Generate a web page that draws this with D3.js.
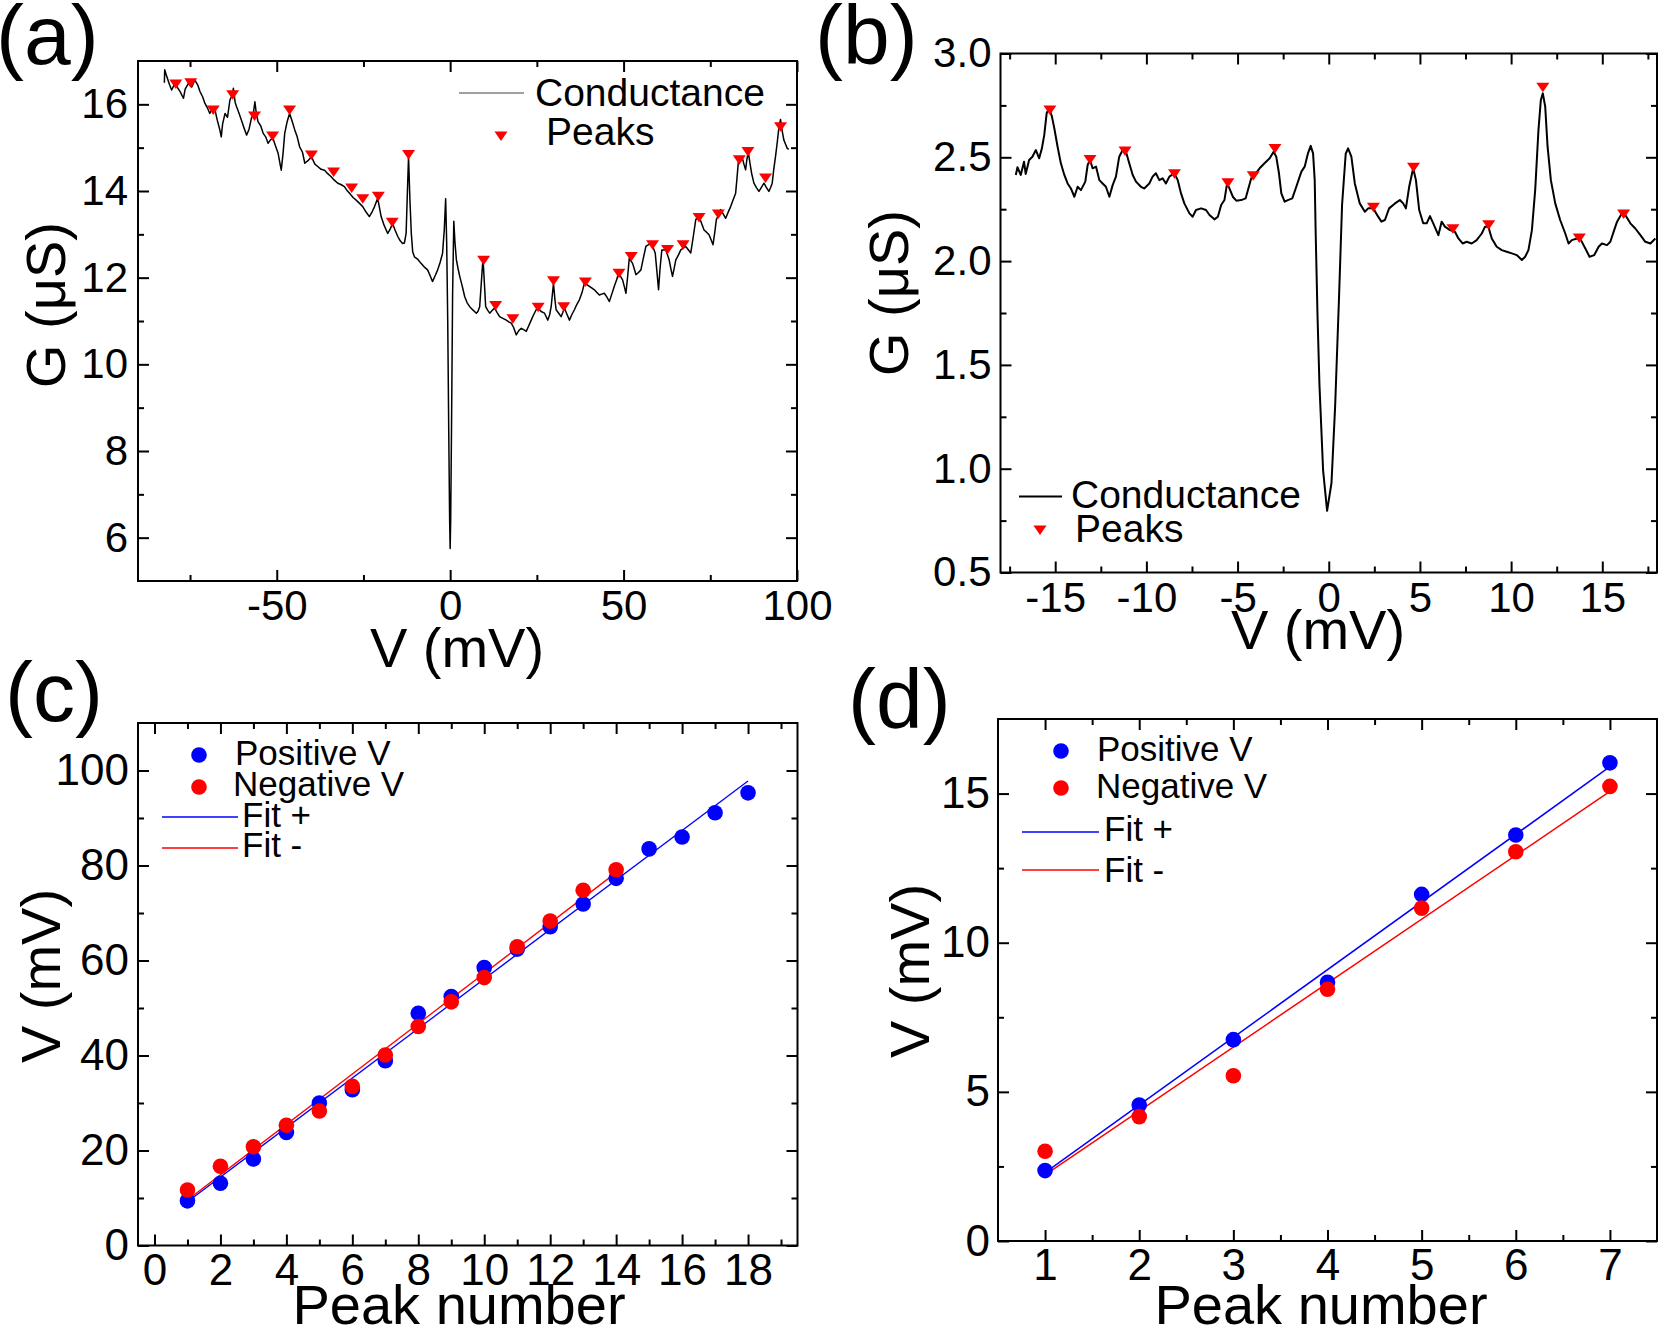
<!DOCTYPE html>
<html>
<head>
<meta charset="utf-8">
<script src="https://cdn.jsdelivr.net/npm/d3@7"></script>
<style>
body { margin: 0; background: #fff; }
svg text { font-family: "Liberation Sans", Arial, Helvetica, sans-serif; fill: #000; }
</style>
</head>
<body>
<div id="main"></div>
<script>
// ---- panel (a): conductance, wide bias range  [V (mV), G (uS)]
const condA = [
  [-82.4,16.50],[-82.3,16.80],[-81.7,16.64],[-80.9,16.45],[-80.3,16.33],[-79.5,16.46],[-78.8,16.41],[-77.9,16.30],
  [-76.9,16.14],[-76.4,16.35],[-75.5,16.48],[-74.5,16.40],[-73.6,16.56],[-72.8,16.45],[-72.1,16.29],[-71.4,16.18],
  [-70.7,16.02],[-70.0,15.92],[-69.3,15.79],[-68.5,15.90],[-67.8,15.87],[-67.1,15.62],[-66.4,15.41],[-66.0,15.25],
  [-65.6,15.55],[-64.9,15.79],[-64.2,15.70],[-63.5,16.10],[-62.9,16.20],[-62.5,16.37],[-62.0,16.05],[-61.6,15.95],
  [-60.9,15.80],[-60.2,15.64],[-59.4,15.45],[-58.7,15.29],[-58.0,15.42],[-57.3,15.68],[-56.8,15.75],[-56.3,16.06],
  [-55.9,15.80],[-55.4,15.60],[-54.6,15.50],[-53.9,15.33],[-53.2,15.25],[-52.5,15.10],[-51.8,15.18],[-51.1,15.22],
  [-50.4,15.05],[-49.6,14.87],[-49.1,14.65],[-48.7,14.48],[-48.2,14.85],[-47.7,15.33],[-47.0,15.60],[-46.3,15.79],
  [-45.6,15.62],[-44.8,15.41],[-44.1,15.25],[-43.4,15.02],[-42.6,14.90],[-41.9,14.64],[-41.0,14.70],[-40.0,14.79],
  [-39.0,14.62],[-38.1,14.56],[-37.2,14.50],[-36.2,14.48],[-35.3,14.40],[-34.3,14.33],[-33.4,14.25],[-32.4,14.18],
  [-31.5,14.15],[-30.5,14.10],[-29.8,14.02],[-29.0,13.95],[-28.0,13.85],[-27.1,13.79],[-26.2,13.72],[-25.2,13.64],
  [-24.3,13.52],[-23.3,13.41],[-22.5,13.52],[-21.8,13.64],[-20.9,13.83],[-20.4,13.62],[-19.9,13.41],[-19.0,13.20],
  [-18.0,13.02],[-17.3,13.12],[-16.6,13.25],[-15.9,13.10],[-15.1,12.95],[-14.4,12.85],[-13.7,12.79],[-13.2,12.80],
  [-12.7,13.02],[-12.4,13.80],[-12.0,14.79],[-11.6,13.80],[-11.2,13.02],[-10.8,12.60],[-10.3,12.48],[-9.3,12.42],
  [-8.4,12.33],[-7.5,12.25],[-6.5,12.18],[-5.8,12.05],[-5.1,11.91],[-4.3,12.05],[-3.6,12.18],[-2.9,12.35],
  [-2.2,12.56],[-1.7,13.10],[-1.3,13.82],[-1.0,12.80],[-0.7,11.0],[-0.4,8.4],[-0.15,6.4],[0.0,5.75],
  [0.15,6.4],[0.4,8.6],[0.7,11.6],[1.05,13.30],[1.4,12.80],[1.8,12.41],[2.3,12.20],[2.76,12.03],
  [3.5,11.80],[4.2,11.56],[4.9,11.42],[5.64,11.33],[6.6,11.25],[7.55,11.18],[8.0,11.22],[8.51,11.33],
  [9.0,11.90],[9.47,12.45],[9.85,11.90],[10.24,11.33],[10.8,11.25],[11.39,11.18],[12.1,11.24],[12.82,11.30],
  [13.5,11.20],[14.26,11.10],[15.2,11.06],[16.18,11.02],[16.9,10.98],[17.62,10.95],[18.3,10.85],[19.05,10.68],
  [19.8,10.78],[20.49,10.83],[21.2,10.80],[21.93,10.76],[22.6,10.88],[23.37,11.02],[24.1,11.15],[24.8,11.26],
  [25.5,11.28],[26.24,11.22],[27.2,11.18],[28.16,11.02],[28.7,11.15],[29.12,11.33],[29.79,11.87],[30.2,11.50],
  [30.55,11.26],[31.3,11.18],[31.99,11.10],[32.5,11.20],[32.95,11.30],[33.7,11.15],[34.39,11.02],[35.1,11.15],
  [35.82,11.26],[36.5,11.38],[37.26,11.49],[38.0,11.65],[38.7,11.87],[39.4,11.84],[40.14,11.80],[40.9,11.76],
  [41.58,11.72],[42.3,11.66],[43.01,11.60],[43.7,11.62],[44.45,11.64],[45.2,11.55],[45.89,11.45],[46.6,11.62],
  [47.33,11.80],[48.0,11.95],[48.57,12.10],[49.2,12.02],[49.72,11.95],[50.2,11.80],[50.68,11.64],[51.2,12.05],
  [51.64,12.45],[52.1,12.39],[52.6,12.33],[53.1,12.20],[53.56,12.07],[54.3,12.12],[55.0,12.18],[55.7,12.45],
  [56.43,12.72],[57.2,12.76],[57.87,12.80],[58.5,12.70],[59.12,12.57],[59.6,12.15],[60.08,11.72],[60.5,12.20],
  [61.03,12.64],[61.6,12.64],[62.18,12.64],[62.7,12.52],[63.14,12.41],[63.6,12.22],[64.1,12.03],[64.6,12.22],
  [65.06,12.41],[65.8,12.52],[66.5,12.64],[67.2,12.68],[67.93,12.72],[68.6,12.65],[69.37,12.57],[70.1,12.95],
  [70.81,13.34],[71.77,13.41],[72.5,13.25],[73.2,13.10],[73.9,13.05],[74.64,12.99],[75.2,12.88],[75.79,12.76],
  [76.3,13.05],[76.75,13.34],[77.4,13.45],[78.0,13.57],[78.7,13.47],[79.43,13.37],[80.1,13.50],[80.87,13.64],
  [81.6,13.80],[82.31,13.95],[82.7,14.30],[83.07,14.65],[83.6,14.70],[84.23,14.76],[84.7,14.62],[85.18,14.49],
  [85.5,14.70],[85.95,14.91],[86.4,14.66],[86.91,14.41],[87.58,14.18],[88.3,14.08],[89.02,13.99],[89.7,14.08],
  [90.46,14.18],[91.2,14.08],[91.89,13.99],[92.4,14.08],[92.85,14.18],[93.3,14.50],[93.81,14.80],[94.3,15.12],
  [94.77,15.45],[95.25,15.65],[95.7,15.40],[96.2,15.18],[96.7,15.08],[97.16,14.99],[97.6,14.96]
];
const peaksAV = [-79.1,-74.8,-68.3,-62.7,-56.4,-51.2,-46.3,-40.0,-33.6,-28.4,-25.2,-20.7,-16.7,-12.0,
  9.66,13.11,18.09,25.38,29.79,32.76,38.99,48.67,52.21,58.35,62.66,67.17,71.76,77.32,83.36,85.85,90.93,95.25];
const peaksAG = [16.47,16.50,15.87,16.22,15.73,15.27,15.87,14.83,14.44,14.07,13.82,13.88,13.28,14.84,
  12.40,11.36,11.05,11.32,11.93,11.33,11.90,12.10,12.49,12.76,12.65,12.76,13.39,13.47,14.72,14.91,14.30,15.48];

// ---- panel (b): conductance, narrow bias range
const condB = [
  [-17.16,2.415],[-17.07,2.452],[-16.89,2.415],[-16.71,2.479],[-16.62,2.420],[-16.43,2.487],[-16.25,2.503],
  [-16.06,2.535],[-15.88,2.495],[-15.73,2.543],[-15.60,2.608],[-15.47,2.712],[-15.33,2.736],[-15.18,2.696],
  [-15.05,2.640],[-14.87,2.551],[-14.69,2.471],[-14.50,2.415],[-14.32,2.374],[-14.14,2.350],[-13.95,2.310],
  [-13.77,2.358],[-13.59,2.342],[-13.35,2.383],[-13.22,2.463],[-13.09,2.487],[-12.95,2.447],[-12.76,2.455],
  [-12.58,2.390],[-12.40,2.374],[-12.22,2.358],[-12.03,2.310],[-11.85,2.366],[-11.67,2.407],[-11.49,2.503],
  [-11.30,2.535],[-11.12,2.527],[-10.94,2.471],[-10.75,2.415],[-10.57,2.383],[-10.30,2.358],[-10.12,2.350],
  [-9.84,2.374],[-9.66,2.407],[-9.48,2.423],[-9.29,2.390],[-9.11,2.399],[-8.93,2.374],[-8.74,2.407],
  [-8.47,2.423],[-8.28,2.390],[-8.10,2.326],[-7.92,2.278],[-7.64,2.230],[-7.46,2.214],[-7.28,2.246],
  [-7.00,2.254],[-6.73,2.246],[-6.54,2.222],[-6.27,2.201],[-6.08,2.214],[-5.90,2.270],[-5.72,2.294],
  [-5.59,2.366],[-5.48,2.358],[-5.26,2.310],[-5.07,2.291],[-4.80,2.294],[-4.56,2.302],[-4.38,2.358],
  [-4.25,2.399],[-4.07,2.415],[-3.79,2.447],[-3.52,2.471],[-3.24,2.495],[-3.02,2.527],[-2.88,2.503],
  [-2.73,2.423],[-2.60,2.326],[-2.42,2.286],[-2.24,2.294],[-2.00,2.302],[-1.78,2.358],[-1.50,2.431],
  [-1.32,2.455],[-1.14,2.519],[-0.99,2.555],[-0.86,2.519],[-0.77,2.390],[-0.72,2.150],[-0.62,1.750],
  [-0.51,1.404],[-0.31,0.992],[-0.09,0.797],[0.15,0.931],[0.35,1.300],[0.56,1.817],[0.73,2.270],
  [0.93,2.517],[1.06,2.543],[1.24,2.503],[1.43,2.374],[1.70,2.278],[1.98,2.238],[2.16,2.254],
  [2.44,2.254],[2.71,2.214],[2.89,2.190],[3.08,2.198],[3.31,2.254],[3.63,2.278],[3.90,2.294],
  [4.08,2.278],[4.23,2.254],[4.41,2.358],[4.63,2.447],[4.78,2.390],[4.96,2.246],[5.18,2.182],
  [5.37,2.182],[5.55,2.217],[5.73,2.182],[6.01,2.125],[6.19,2.190],[6.37,2.166],[6.65,2.149],
  [6.92,2.141],[7.11,2.109],[7.34,2.085],[7.56,2.093],[7.84,2.085],[8.11,2.101],[8.39,2.133],
  [8.57,2.166],[8.75,2.166],[8.94,2.109],[9.21,2.069],[9.49,2.053],[9.76,2.045],[10.04,2.037],
  [10.31,2.029],[10.59,2.005],[10.77,2.021],[10.95,2.053],[11.14,2.149],[11.32,2.342],[11.50,2.632],
  [11.63,2.776],[11.74,2.808],[11.87,2.744],[12.00,2.551],[12.18,2.390],[12.42,2.278],[12.69,2.198],
  [12.97,2.133],[13.15,2.085],[13.33,2.101],[13.61,2.109],[13.83,2.101],[14.07,2.061],[14.30,2.021],
  [14.56,2.029],[14.80,2.069],[14.98,2.085],[15.26,2.077],[15.44,2.093],[15.62,2.141],[15.81,2.190],
  [16.08,2.230],[16.26,2.222],[16.54,2.182],[16.81,2.157],[17.09,2.125],[17.36,2.093],[17.64,2.085],
  [17.91,2.109]
];
const peaksBV = [-15.29,-13.09,-11.17,-8.46,-5.53,-4.14,-2.95,2.45,4.65,6.81,8.77,11.74,13.74,16.17];
const peaksBG = [2.728,2.490,2.530,2.421,2.378,2.411,2.542,2.259,2.452,2.156,2.175,2.837,2.111,2.227];

// ---- panel (c): peak positions, wide range
const peakNumC = [1,2,3,4,5,6,7,8,9,10,11,12,13,14,15,16,17,18];
const posC = [9.4,13.1,18.2,23.8,30.0,32.8,38.9,48.9,52.4,58.5,62.4,67.1,71.9,77.3,83.5,86.0,91.1,95.3];
const negC = [11.7,16.7,20.8,25.3,28.3,33.5,40.1,46.1,51.3,56.4,62.9,68.3,74.8,79.1];
const fitPosC = [[1,9.2],[18,97.8]];
const fitNegC = [[1,9.6],[14,78.5]];

// ---- panel (d): peak positions, narrow range
const peakNumD = [1,2,3,4,5,6,7];
const posD = [2.36,4.56,6.75,8.67,11.62,13.61,16.03];
const negD = [3.01,4.17,5.54,8.44,11.16,13.05,15.24];
const fitPosD = [[1,2.29],[7,15.9]];
const fitNegD = [[1,2.22],[7,15.07]];

// tick values
const ticksA = { xMajor: [-50,0,50,100], xMinor: [-75,-25,25,75], yMajor: [6,8,10,12,14,16], yMinor: [7,9,11,13,15] };
const ticksB = { xMajor: [-15,-10,-5,0,5,10,15], xMinor: [-17.5,-12.5,-7.5,-2.5,2.5,7.5,12.5,17.5],
                 yMajor: [0.5,1.0,1.5,2.0,2.5,3.0], yMinor: [0.75,1.25,1.75,2.25,2.75] };
const ticksC = { xMajor: [0,2,4,6,8,10,12,14,16,18], xMinor: [1,3,5,7,9,11,13,15,17,19],
                 yMajor: [0,20,40,60,80,100], yMinor: [10,30,50,70,90] };
const ticksD = { xMajor: [1,2,3,4,5,6,7], xMinor: [1.5,2.5,3.5,4.5,5.5,6.5],
                 yMajor: [0,5,10,15], yMinor: [2.5,7.5,12.5] };

const width = 1661, height = 1327;
const FONT = '"Liberation Sans", Arial, Helvetica, sans-serif';
const BLUE = '#0000ff', RED = '#ff0000';

let svg = d3.select('#main')
  .append('svg')
    .attr('width', width)
    .attr('height', height)
    .style('background', '#fff');

function addAxis(axis, transform, fontSize) {
  const a = svg.append('g').attr('transform', transform).call(axis);
  a.attr('font-family', FONT).attr('font-size', fontSize);
  a.select('.domain').remove();
  a.selectAll('line').attr('stroke', '#000').attr('stroke-width', 2);
  a.selectAll('text').attr('fill', '#000');
  return a;
}

// frame with inward ticks on all four sides
function panel(box, xDomain, yDomain, ticks, opt) {
  const x = d3.scaleLinear().domain(xDomain).range([box.x0, box.x1]);
  const y = d3.scaleLinear().domain(yDomain).range([box.y1, box.y0]);
  const M = 11, m = 6;

  addAxis(d3.axisBottom(x).tickValues(ticks.xMajor).tickSizeInner(-M).tickSizeOuter(0)
    .tickPadding(opt.xPad).tickFormat(d => String(d)), `translate(0,${box.y1})`, opt.tick);
  addAxis(d3.axisBottom(x).tickValues(ticks.xMinor).tickSizeInner(-m).tickSizeOuter(0).tickFormat(''),
    `translate(0,${box.y1})`, opt.tick);
  addAxis(d3.axisTop(x).tickValues(ticks.xMajor).tickSizeInner(-M).tickSizeOuter(0).tickFormat(''),
    `translate(0,${box.y0})`, opt.tick);
  addAxis(d3.axisTop(x).tickValues(ticks.xMinor).tickSizeInner(-m).tickSizeOuter(0).tickFormat(''),
    `translate(0,${box.y0})`, opt.tick);
  addAxis(d3.axisLeft(y).tickValues(ticks.yMajor).tickSizeInner(-M).tickSizeOuter(0)
    .tickPadding(opt.yPad).tickFormat(opt.yFmt), `translate(${box.x0},0)`, opt.tick);
  addAxis(d3.axisLeft(y).tickValues(ticks.yMinor).tickSizeInner(-m).tickSizeOuter(0).tickFormat(''),
    `translate(${box.x0},0)`, opt.tick);
  addAxis(d3.axisRight(y).tickValues(ticks.yMajor).tickSizeInner(-M).tickSizeOuter(0).tickFormat(''),
    `translate(${box.x1},0)`, opt.tick);
  addAxis(d3.axisRight(y).tickValues(ticks.yMinor).tickSizeInner(-m).tickSizeOuter(0).tickFormat(''),
    `translate(${box.x1},0)`, opt.tick);

  svg.append('rect')
    .attr('x', box.x0).attr('y', box.y0)
    .attr('width', box.x1 - box.x0).attr('height', box.y1 - box.y0)
    .attr('fill', 'none').attr('stroke', '#000').attr('stroke-width', 2);

  return { x, y };
}

function text(str, x, y, size, anchor, rotate) {
  return svg.append('text')
    .attr('transform', `translate(${x},${y})` + (rotate ? ` rotate(${rotate})` : ''))
    .attr('text-anchor', anchor || 'start')
    .attr('font-size', size)
    .text(str);
}

const tri = 'M-6.5,-4.5L6.5,-4.5L0,5Z';

// ---------------- (a)
const A = panel({ x0: 138, x1: 797, y0: 61, y1: 581 }, [-90, 100], [5, 17], ticksA,
  { tick: 42, xPad: 9, yPad: 10, yFmt: d => String(d) });

svg.append('path')
  .datum(condA)
  .attr('fill', 'none').attr('stroke', '#000').attr('stroke-width', 1.5).attr('stroke-linejoin', 'round')
  .attr('d', d3.line().x(d => A.x(d[0])).y(d => A.y(d[1])));

svg.selectAll('.peakA')
  .data(peaksAV)
  .enter()
  .append('path')
    .attr('class', 'peakA')
    .attr('d', tri)
    .attr('transform', (d, i) => `translate(${A.x(d)},${A.y(peaksAG[i])})`)
    .attr('fill', RED);

// legend (a)
svg.append('line').attr('x1', 459).attr('x2', 524).attr('y1', 93).attr('y2', 93)
  .attr('stroke', '#808080').attr('stroke-width', 1.5);
text('Conductance', 535, 106, 39);
svg.append('path').attr('d', tri).attr('transform', 'translate(501,136)').attr('fill', RED);
text('Peaks', 546, 145, 39);

text('V (mV)', 457, 667, 56, 'middle');
text('G (\u03bcS)', 65, 305, 56, 'middle', -90);
text('(a)', -4, 64, 84);

// ---------------- (b)
const B = panel({ x0: 1000.5, x1: 1657, y0: 53.5, y1: 572.5 }, [-18, 18], [0.5, 3.0], ticksB,
  { tick: 42, xPad: 10, yPad: 9, yFmt: d3.format('.1f') });

svg.append('path')
  .datum(condB)
  .attr('fill', 'none').attr('stroke', '#000').attr('stroke-width', 2).attr('stroke-linejoin', 'round')
  .attr('d', d3.line().x(d => B.x(d[0])).y(d => B.y(d[1])));

svg.selectAll('.peakB')
  .data(peaksBV)
  .enter()
  .append('path')
    .attr('class', 'peakB')
    .attr('d', tri)
    .attr('transform', (d, i) => `translate(${B.x(d)},${B.y(peaksBG[i])})`)
    .attr('fill', RED);

// legend (b)
svg.append('line').attr('x1', 1019).attr('x2', 1062).attr('y1', 496.5).attr('y2', 496.5)
  .attr('stroke', '#000').attr('stroke-width', 2);
text('Conductance', 1071, 508, 39);
svg.append('path').attr('d', tri).attr('transform', 'translate(1040,530)').attr('fill', RED);
text('Peaks', 1075, 542, 39);

text('V (mV)', 1318, 649, 56, 'middle');
text('G (\u03bcS)', 908, 293, 56, 'middle', -90);
text('(b)', 815, 64, 84);

// ---------------- (c)
const C = panel({ x0: 138, x1: 797.5, y0: 723, y1: 1245.5 }, [-0.5, 19.5], [0, 110], ticksC,
  { tick: 44, xPad: 8, yPad: 9, yFmt: d => String(d) });

const fitLine = s => d3.line().x(d => s.x(d[0])).y(d => s.y(d[1]));

svg.append('path').datum(fitPosC).attr('fill', 'none').attr('stroke', BLUE).attr('stroke-width', 1.3).attr('d', fitLine(C));
svg.append('path').datum(fitNegC).attr('fill', 'none').attr('stroke', RED).attr('stroke-width', 1.3).attr('d', fitLine(C));

svg.selectAll('.posC')
  .data(posC)
  .enter()
  .append('circle')
    .attr('class', 'posC')
    .attr('cx', (d, i) => C.x(peakNumC[i]))
    .attr('cy', d => C.y(d))
    .attr('r', 7.8)
    .style('fill', BLUE);

svg.selectAll('.negC')
  .data(negC)
  .enter()
  .append('circle')
    .attr('class', 'negC')
    .attr('cx', (d, i) => C.x(peakNumC[i]))
    .attr('cy', d => C.y(d))
    .attr('r', 7.8)
    .style('fill', RED);

// legend (c)
svg.append('circle').attr('cx', 199).attr('cy', 755).attr('r', 7.8).style('fill', BLUE);
text('Positive V', 235, 765, 35);
svg.append('circle').attr('cx', 199).attr('cy', 787).attr('r', 7.8).style('fill', RED);
text('Negative V', 233, 796, 35);
svg.append('line').attr('x1', 162).attr('x2', 238).attr('y1', 817).attr('y2', 817).attr('stroke', BLUE).attr('stroke-width', 1.3);
text('Fit +', 242, 827, 35);
svg.append('line').attr('x1', 162).attr('x2', 238).attr('y1', 848).attr('y2', 848).attr('stroke', RED).attr('stroke-width', 1.3);
text('Fit -', 242, 857, 35);

text('Peak number', 459, 1324, 56, 'middle');
text('V (mV)', 60, 976, 56, 'middle', -90);
text('(c)', 5, 721, 84);

// ---------------- (d)
const D = panel({ x0: 998, x1: 1657, y0: 719, y1: 1241 }, [0.5, 7.5], [0, 17.5], ticksD,
  { tick: 44, xPad: 8, yPad: 8, yFmt: d => String(d) });

svg.append('path').datum(fitPosD).attr('fill', 'none').attr('stroke', BLUE).attr('stroke-width', 1.5).attr('d', fitLine(D));
svg.append('path').datum(fitNegD).attr('fill', 'none').attr('stroke', RED).attr('stroke-width', 1.5).attr('d', fitLine(D));

svg.selectAll('.posD')
  .data(posD)
  .enter()
  .append('circle')
    .attr('class', 'posD')
    .attr('cx', (d, i) => D.x(peakNumD[i]))
    .attr('cy', d => D.y(d))
    .attr('r', 7.8)
    .style('fill', BLUE);

svg.selectAll('.negD')
  .data(negD)
  .enter()
  .append('circle')
    .attr('class', 'negD')
    .attr('cx', (d, i) => D.x(peakNumD[i]))
    .attr('cy', d => D.y(d))
    .attr('r', 7.8)
    .style('fill', RED);

// legend (d)
svg.append('circle').attr('cx', 1061).attr('cy', 751).attr('r', 7.8).style('fill', BLUE);
text('Positive V', 1097, 761, 35);
svg.append('circle').attr('cx', 1061).attr('cy', 788).attr('r', 7.8).style('fill', RED);
text('Negative V', 1096, 798, 35);
svg.append('line').attr('x1', 1022).attr('x2', 1099).attr('y1', 832).attr('y2', 832).attr('stroke', BLUE).attr('stroke-width', 1.3);
text('Fit +', 1104, 841, 35);
svg.append('line').attr('x1', 1022).attr('x2', 1099).attr('y1', 870).attr('y2', 870).attr('stroke', RED).attr('stroke-width', 1.3);
text('Fit -', 1104, 882, 35);

text('Peak number', 1321, 1324, 56, 'middle');
text('V (mV)', 929, 971, 56, 'middle', -90);
text('(d)', 848, 728, 84);
</script>
</body>
</html>
